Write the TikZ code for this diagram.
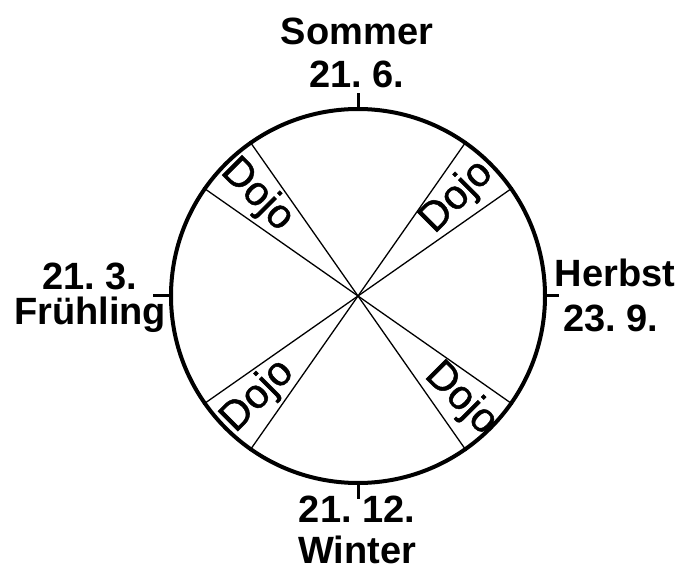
\documentclass[tikz,border=0pt]{standalone}
\usepackage{fontspec}
\setmainfont{Liberation Sans}
\newfontfamily\dojofont[FakeBold=1.2]{Liberation Sans}
\usetikzlibrary{positioning,calc}

\begin{document}
\begin{tikzpicture}[
  x=1pt, y=-1pt,
  season/.style={font=\fontsize{38}{40}\selectfont\bfseries, inner sep=0pt, anchor=base},
  dojo/.style={font=\dojofont\fontsize{41}{44}\selectfont, inner sep=0pt},
  rim/.style={draw, circle, line width=4pt, minimum size=374pt, inner sep=0pt},
  spoke/.style={line width=1.3pt},
  tick/.style={line width=3pt}
]
\useasboundingbox (0,0) rectangle (678,569);
\node[rim] (wheel) at (358,296) {};
\draw[spoke] (wheel.55) -- (wheel.235);
\draw[spoke] (wheel.35) -- (wheel.215);
\draw[spoke] (wheel.125) -- (wheel.305);
\draw[spoke] (wheel.145) -- (wheel.325);
\node[dojo, rotate=-45] (dojoNW) at ($(wheel.center)!0.755!(wheel.135)$) {Dojo};
\node[dojo, rotate=45]  (dojoNE) at ($(wheel.center)!0.74!(wheel.45)$)  {Dojo};
\node[dojo, rotate=45]  (dojoSW) at ($(wheel.center)!0.75!(wheel.225)$) {Dojo};
\node[dojo, rotate=-45] (dojoSE) at ($(wheel.center)!0.77!(wheel.315)$) {Dojo};
% ticks at the four dates
\coordinate[above=14pt of wheel.north] (tickS);
\coordinate[below=14pt of wheel.south] (tickW);
\coordinate[left=16pt of wheel.west]   (tickF);
\coordinate[right=12pt of wheel.east]  (tickH);
\draw[tick] (wheel.north) -- (tickS);
\draw[tick] (wheel.south) -- (tickW);
\draw[tick] (wheel.west) -- (tickF);
\draw[tick] (wheel.east) -- (tickH);
% seasons
\node[season] (sommer)      at (357,45)  {Sommer};
\node[season] (sommerDate)  at (357,88)  {21.\ 6.};
\node[season] (fruehDate)   at (90,290)  {21.\ 3.};
\node[season] (frueh)       at (90,325)  {Frühling};
\node[season] (herbst)      at (615,287) {Herbst};
\node[season] (herbstDate)  at (611,332) {23.\ 9.};
\node[season] (winterDate)  at (357,522) {21.\ 12.};
\node[season] (winter)      at (357,563) {Winter};
\end{tikzpicture}
\end{document}
